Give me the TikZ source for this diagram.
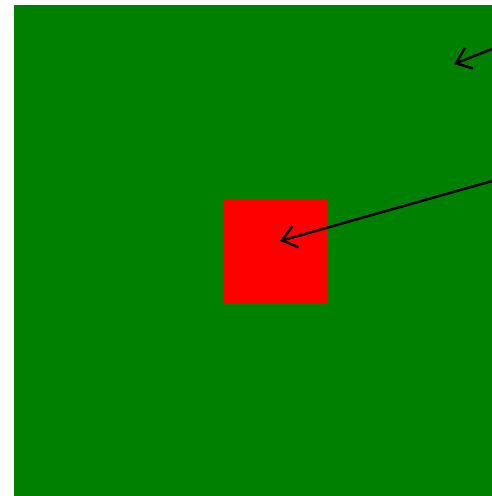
\documentclass[tikz,border=0pt]{standalone}
\usetikzlibrary{arrows.meta,positioning}

\begin{document}
\begin{tikzpicture}[
  x=1pt, y=-1pt,
  field/.style={fill={rgb,255:red,0;green,128;blue,0}, draw=none, inner sep=0pt, anchor=north west},
  block/.style={fill={rgb,255:red,255;green,0;blue,0}, draw=none, inner sep=0pt, anchor=north west},
  arr/.style={-{Straight Barb[length=14pt, width=22pt, line width=2.5pt]}, line width=2.5pt, draw=black}
]
\useasboundingbox (0,0) rectangle (492,496);

\node[field, minimum width=478pt, minimum height=491pt] (bg) at (14,5) {};
\node[block, minimum width=104pt, minimum height=104pt] (sq) at (223.5,199.5) {};

% arrow ends
\coordinate (top start) at (492,49);
\coordinate (top tip) at (454,64);
\coordinate (mid start) at (492,181);
\coordinate (mid tip) at (280,241);

\draw[arr] (top start) -- (top tip);
\draw[arr] (mid start) -- (mid tip);
\end{tikzpicture}
\end{document}
